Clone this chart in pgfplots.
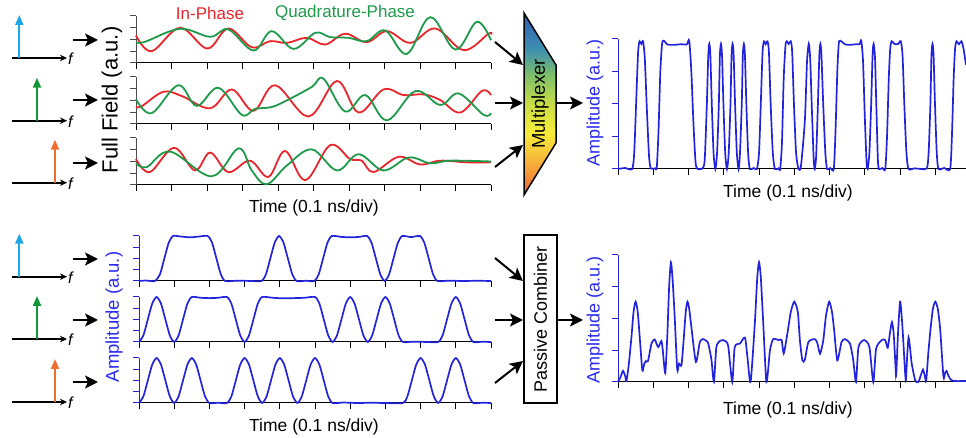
\documentclass[border=0pt]{standalone}
\usepackage{fontspec}
\setmainfont{Liberation Sans}
\usepackage{pgfplots}
\pgfplotsset{compat=1.18}
\usetikzlibrary{arrows.meta}

\definecolor{iRed}{HTML}{E8262B}
\definecolor{qGreen}{HTML}{1E9A4B}
\definecolor{sigBlue}{HTML}{2323DC}
\definecolor{lblBlue}{HTML}{2A2AF0}
\definecolor{fBlue}{HTML}{1CA8E6}
\definecolor{fGreen}{HTML}{13963A}
\definecolor{fOrange}{HTML}{EE6E2E}
\definecolor{muxB}{HTML}{2E5DB5}
\definecolor{muxT}{HTML}{3D8FB0}
\definecolor{muxG}{HTML}{7DC06A}
\definecolor{muxYG}{HTML}{C8DD45}
\definecolor{muxY}{HTML}{F7EC3A}
\definecolor{muxO}{HTML}{F5A23A}
\definecolor{muxR}{HTML}{EE5A2F}

\pgfdeclareverticalshading{mux}{100bp}{color(0bp)=(muxR); color(25bp)=(muxR);
  color(32bp)=(muxO); color(42bp)=(muxY); color(50bp)=(muxYG); color(58bp)=(muxG);
  color(65bp)=(muxT); color(75bp)=(muxB); color(100bp)=(muxB)}

\newcommand{\fs}[1]{\fontsize{#1}{#1}\selectfont}

\pgfplotsset{
  panel/.style={
    scale only axis, clip=false,
    axis x line=bottom, axis y line=left,
    axis line style={-, line width=1pt},
    x axis line style={-, black}, y axis line style={-},
    tick align=outside, major tick length=6pt,
    every tick/.style={line width=1pt},
    xmin=0, xmax=10, ymin=0, ymax=4,
    xtick={0,...,10}, ytick={0,...,4},
    xticklabels={}, yticklabels={},
    xtick style={black},
  },
  grayy/.style={y axis line style={-, black!70}, ytick style={black!70}},
  bluey/.style={y axis line style={-, sigBlue}, ytick style={sigBlue}},
  iq/.style={line width=1.8pt, smooth, tension=0.6},
  sig/.style={line width=1.7pt, color=sigBlue, smooth, tension=0.4},
}

\begin{document}
\begin{tikzpicture}
\path[use as bounding box] (0pt,0pt) rectangle (966pt,438pt);

% ---- top: full field (I/Q) ----
\begin{axis}[panel, grayy, at={(136pt,375pt)}, width=355pt, height=47pt]
  \addplot[iq, iRed] coordinates {(0,2.34) (0.44,1.0) (1.24,3.0) (2.01,1.23) (2.6,2.94)
    (3.26,1.34) (3.78,1.86) (4.25,1.71) (4.81,2.14) (5.33,1.57) (5.89,2.49) (6.5,1.77)
    (7.07,2.71) (7.73,1.71) (8.43,2.94) (9.23,1.09) (9.93,2.49) (10,2.43)};
  \addplot[iq, qGreen] coordinates {(0,1.77) (0.25,1.8) (1.24,2.91) (2.09,2.23) (2.6,2.86)
    (3.31,1.06) (3.82,2.71) (4.44,1.2) (5.05,2.57) (5.47,2.2) (5.99,2.14) (6.5,1.86)
    (7.02,2.77) (7.63,0.77) (8.29,3.9) (9.0,1.14) (9.6,3.51) (10,1.94)};
\end{axis}
\begin{axis}[panel, grayy, at={(136pt,314pt)}, width=355pt, height=47pt]
  \addplot[iq, iRed] coordinates {(0,1.48) (0.16,1.51) (0.77,2.74) (1.29,2.38) (2.09,1.34)
    (2.70,2.94) (3.31,1.12) (3.92,3.3) (4.86,0.64) (5.66,3.66) (6.27,0.98) (6.97,2.94)
    (7.54,2.46) (8.10,2.52) (8.57,2.04) (9.14,0.98) (9.75,2.83) (10,2.46)};
  \addplot[iq, qGreen] coordinates {(0,2.1) (0.44,0.92) (1.19,3.3) (1.71,1.54) (2.32,3.08)
    (2.98,0.78) (3.35,1.28) (3.83,1.45) (4.31,2.1) (4.96,3.17) (5.28,3.86) (5.89,1.06)
    (6.46,2.46) (7.07,0.31) (7.87,2.8) (8.57,1.62) (9.09,2.6) (9.79,0.78) (10,0.92)};
\end{axis}
\begin{axis}[panel, grayy, at={(136pt,253pt)}, width=355pt, height=47pt]
  \addplot[iq, iRed] coordinates {(0,2.21) (0.39,1.1) (1.07,3.17) (1.66,1.24) (2.09,2.76)
    (2.60,1.1) (3.21,2.07) (3.73,0.69) (4.20,2.9) (4.77,0.41) (5.47,3.39) (6.03,2.21)
    (6.36,2.07) (6.69,1.1) (7.40,2.4) (8.01,1.74) (8.57,2.07) (9.32,1.93) (10,1.93)};
  \addplot[iq, qGreen] coordinates {(0,1.85) (0.30,1.52) (0.96,2.84) (2.13,0.74) (2.89,3.12)
    (3.26,1.24) (3.68,0.06) (4.25,1.66) (4.95,3.03) (5.66,1.24) (6.27,2.62) (6.97,1.24)
    (7.68,2.34) (8.29,1.85) (8.85,2.07) (10,2.0)};
\end{axis}

% ---- bottom: amplitude of each channel ----
\begin{axis}[panel, bluey, at={(139pt,157pt)}, width=352pt, height=45pt]
  \addplot[sig] coordinates {(0,0) (0.2,0.04) (0.45,0)
    (0.595,0.59) (0.72,2.0) (0.845,3.41) (0.97,4.0) (1.2,3.95) (1.45,3.88) (1.7,3.95) (1.95,4.0)
    (2.075,3.41) (2.2,2.0) (2.325,0.59) (2.45,0) (2.8,0.03) (3.2,0) (3.48,0)
    (3.605,0.59) (3.73,2.0) (3.855,3.41) (3.98,4.0) (4.105,3.41) (4.23,2.0) (4.355,0.59) (4.48,0)
    (4.75,0.02) (4.98,0)
    (5.105,0.59) (5.23,2.0) (5.355,3.41) (5.48,4.0) (5.75,3.92) (6.0,3.88) (6.25,3.92) (6.48,4.0)
    (6.605,3.41) (6.73,2.0) (6.855,0.59) (6.98,0)
    (7.105,0.59) (7.23,2.0) (7.355,3.41) (7.48,4.0) (7.73,3.9) (7.98,4.0)
    (8.105,3.41) (8.23,2.0) (8.355,0.59) (8.48,0) (8.8,0.03) (9.2,0) (9.6,0.02) (10,0)};
\end{axis}
\begin{axis}[panel, bluey, at={(139pt,96pt)}, width=352pt, height=45pt]
  \addplot[sig] coordinates {(0,0) (0.125,0.59) (0.25,2.0) (0.375,3.41) (0.5,4.0)
    (0.625,3.41) (0.75,2.0) (0.875,0.59) (1.0,0)
    (1.125,0.59) (1.25,2.0) (1.375,3.41) (1.5,4.0) (1.75,3.93) (2.0,3.9) (2.25,3.93) (2.5,4.0)
    (2.625,3.41) (2.75,2.0) (2.875,0.59) (3.0,0)
    (3.125,0.59) (3.25,2.0) (3.375,3.41) (3.5,4.0) (3.8,3.93) (4.1,3.88) (4.4,3.9) (4.7,3.93) (5.0,4.0)
    (5.125,3.41) (5.25,2.0) (5.375,0.59) (5.5,0)
    (5.625,0.59) (5.75,2.0) (5.875,3.41) (6.0,4.0) (6.125,3.41) (6.25,2.0) (6.375,0.59) (6.5,0)
    (6.625,0.59) (6.75,2.0) (6.875,3.41) (7.0,4.0) (7.125,3.41) (7.25,2.0) (7.375,0.59) (7.5,0)
    (7.8,0.03) (8.2,0) (8.5,0)
    (8.625,0.59) (8.75,2.0) (8.875,3.41) (9.0,4.0) (9.125,3.41) (9.25,2.0) (9.375,0.59) (9.5,0)
    (9.75,0.02) (10,0)};
\end{axis}
\begin{axis}[panel, bluey, at={(139pt,35pt)}, width=352pt, height=45pt]
  \addplot[sig] coordinates {(0,0) (0.125,0.59) (0.25,2.0) (0.375,3.41) (0.5,4.0)
    (0.625,3.41) (0.75,2.0) (0.875,0.59) (1.0,0)
    (1.125,0.59) (1.25,2.0) (1.375,3.41) (1.5,4.0) (1.625,3.41) (1.75,2.0) (1.875,0.59) (2.0,0)
    (2.25,0.02) (2.5,0)
    (2.625,0.59) (2.75,2.0) (2.875,3.41) (3.0,4.0) (3.125,3.41) (3.25,2.0) (3.375,0.59) (3.5,0)
    (3.625,0.59) (3.75,2.0) (3.875,3.41) (4.0,4.0) (4.125,3.41) (4.25,2.0) (4.375,0.59) (4.5,0)
    (4.625,0.59) (4.75,2.0) (4.875,3.41) (5.0,4.0) (5.125,3.41) (5.25,2.0) (5.375,0.59) (5.5,0)
    (5.8,0.04) (6.2,0) (6.6,0.02) (7.0,0) (7.5,0)
    (7.625,0.59) (7.75,2.0) (7.875,3.41) (8.0,4.0) (8.125,3.41) (8.25,2.0) (8.375,0.59) (8.5,0)
    (8.625,0.59) (8.75,2.0) (8.875,3.41) (9.0,4.0) (9.125,3.41) (9.25,2.0) (9.375,0.59) (9.5,0)
    (9.75,0.02) (10,0)};
\end{axis}

% ---- right: multiplexed output ----
\begin{axis}[panel, bluey, at={(618pt,269pt)}, width=348pt, height=130pt,
    xmax=9.87, xtick={0,...,9}]
  \addplot[sig] coordinates {(0,0) (0.2,0.03) (0.4,0)
    (0.46,0.5) (0.52,2.2) (0.57,3.6) (0.61,3.93) (0.66,3.85) (0.71,3.93)
    (0.76,3.4) (0.82,1.8) (0.88,0.4) (0.93,0.02) (1.05,0.02) (1.1,0.05)
    (1.15,1.2) (1.2,3.0) (1.25,3.85) (1.3,3.95) (1.4,3.83) (1.6,3.82) (1.8,3.84) (1.95,3.83) (2.02,3.95)
    (2.08,3.0) (2.14,1.4) (2.2,0.2) (2.26,0) (2.4,0.02)
    (2.46,0.3) (2.52,2.0) (2.56,3.5) (2.59,3.85) (2.62,3.5) (2.66,2.0) (2.71,0.5) (2.76,0)
    (2.81,0.5) (2.86,2.0) (2.89,3.5) (2.92,3.85) (2.95,3.5) (2.99,2.0) (3.04,0.5) (3.09,0)
    (3.14,0.5) (3.19,2.0) (3.22,3.5) (3.25,3.85) (3.28,3.5) (3.32,2.0) (3.37,0.5) (3.42,0)
    (3.46,0.5) (3.51,2.0) (3.54,3.5) (3.57,3.85) (3.60,3.5) (3.64,2.0) (3.69,0.5) (3.74,0)
    (3.85,0.03) (3.94,0)
    (4.0,0.5) (4.05,2.0) (4.1,3.6) (4.14,3.93) (4.19,3.84) (4.24,3.93) (4.28,3.6) (4.33,2.0) (4.39,0.5) (4.45,0)
    (4.55,0.02) (4.6,0)
    (4.65,0.8) (4.7,2.8) (4.75,3.8) (4.79,3.93) (4.84,3.85) (4.9,3.93) (4.94,3.6) (4.99,2.0) (5.05,0.5) (5.12,0)
    (5.19,0.1) (5.3,1.5) (5.36,3.3) (5.41,3.85) (5.45,3.4) (5.5,1.8) (5.55,0.3) (5.58,0)
    (5.62,0.4) (5.67,2.0) (5.71,3.5) (5.74,3.85) (5.77,3.5) (5.82,2.0) (5.88,0.5) (5.93,0)
    (6.02,0.03) (6.12,0)
    (6.17,1.2) (6.22,3.0) (6.26,3.85) (6.3,3.95) (6.45,3.83) (6.6,3.82) (6.75,3.84) (6.85,3.84) (6.9,3.95)
    (6.95,3.3) (7.0,1.6) (7.05,0.2) (7.08,0)
    (7.13,0.5) (7.18,2.0) (7.22,3.5) (7.25,3.85) (7.29,3.4) (7.33,1.8) (7.37,0.3) (7.4,0)
    (7.5,0.03) (7.58,0)
    (7.63,1.0) (7.68,2.8) (7.72,3.7) (7.76,3.93) (7.85,3.84) (7.95,3.85) (8.02,3.93)
    (8.07,3.5) (8.12,2.0) (8.18,0.5) (8.24,0) (8.4,0.02) (8.6,0) (8.76,0.02)
    (8.81,0.5) (8.86,2.0) (8.89,3.5) (8.92,3.85) (8.95,3.5) (8.99,2.0) (9.04,0.5) (9.09,0)
    (9.25,0.03) (9.42,0)
    (9.47,1.0) (9.52,2.8) (9.56,3.7) (9.6,3.93) (9.67,3.84) (9.74,3.93) (9.8,3.7) (9.87,3.2)};
\end{axis}

% ---- right: passive combiner output ----
\begin{axis}[panel, bluey, at={(618pt,56pt)}, width=348pt, height=127pt,
    xmax=9.87, xtick={0,...,9}]
  \addplot[sig] coordinates {(0,0) (0.07,0.15) (0.14,0.35) (0.2,0.2) (0.24,0.03)
    (0.31,0.6) (0.38,1.4) (0.44,2.2) (0.5,2.53) (0.56,2.2) (0.62,1.35) (0.69,0.37)
    (0.74,0.55) (0.79,0.66) (0.85,0.66) (0.95,1.21) (1.04,1.34) (1.14,1.1) (1.23,1.29) (1.27,1.0) (1.34,0.28)
    (1.4,1.5) (1.45,3.0) (1.5,3.77) (1.55,3.2) (1.61,2.0) (1.68,0.39) (1.73,0.58) (1.8,0.53)
    (1.86,1.3) (1.92,2.2) (1.97,2.53) (2.02,2.3) (2.08,1.74) (2.21,0.63)
    (2.32,1.26) (2.41,1.35) (2.5,1.3) (2.56,1.21) (2.65,0.7) (2.72,0)
    (2.79,1.1) (2.9,1.3) (2.98,1.32) (3.06,1.28) (3.13,1.1) (3.24,0)
    (3.31,1.1) (3.46,1.21) (3.6,1.4) (3.67,0.79) (3.76,0)
    (3.88,1.84) (3.95,3.3) (4.0,3.77) (4.05,3.3) (4.12,1.84) (4.21,0)
    (4.31,1.0) (4.4,1.35) (4.55,1.32) (4.64,1.32) (4.7,0.9)
    (4.8,1.5) (4.9,2.2) (5.0,2.53) (5.1,2.2) (5.16,1.3) (5.23,0.68) (5.3,0.7)
    (5.4,1.26) (5.59,1.35) (5.66,1.2) (5.73,0.89)
    (5.82,1.3) (5.9,2.1) (5.99,2.53) (6.07,2.2) (6.13,1.63) (6.22,0.68)
    (6.34,1.26) (6.44,1.35) (6.58,1.21) (6.67,0.7) (6.75,0)
    (6.82,1.1) (6.98,1.32) (7.13,1.1) (7.24,0)
    (7.32,1.05) (7.48,1.32) (7.58,1.32) (7.65,1.08) (7.72,1.6) (7.77,1.89) (7.82,1.5) (7.87,0.5) (7.89,0.21)
    (7.94,1.5) (8.0,2.53) (8.05,2.0) (8.09,1.32) (8.16,0.05)
    (8.2,0.8) (8.24,1.4) (8.29,1.0) (8.33,0.58) (8.43,0.05) (8.52,0)
    (8.6,0.25) (8.65,0.39) (8.7,0.2) (8.74,0.03)
    (8.8,0.9) (8.86,1.63) (8.93,2.3) (9.0,2.53) (9.07,2.3) (9.14,1.63) (9.23,0.16)
    (9.28,0.3) (9.32,0.35) (9.37,0.2) (9.44,0.07) (9.56,0.03) (9.87,0.03)};
\end{axis}

\begin{scope}[x=1pt, y=1pt]
  % frequency sketches
  \foreach \ya/\xa/\col in {380/19.3/fBlue, 317.3/37/fGreen, 255.3/55/fOrange,
                            161.3/19.3/fBlue, 99/37/fGreen, 36/55/fOrange} {
    \draw[line width=1.8pt, -{Stealth[length=7pt,width=6.5pt]}] (12,\ya) -- (67,\ya);
    \draw[line width=2pt, \col, -{Triangle[length=10pt,width=8pt]}] (\xa,\ya) -- (\xa,\ya+43);
    \node[anchor=west, inner sep=0pt, font=\fs{16}\itshape] at (68,\ya-1) {f};
  }
  \foreach \ya in {398, 338, 275, 179, 118, 56}
    \draw[line width=2pt, -{Stealth[length=13pt,width=13pt,inset=3pt]}] (73,\ya) -- (98,\ya);

  % multiplexer
  \shadedraw[shading=mux, line width=1.5pt] (524,425) -- (556,373) -- (556,295) -- (524,243) -- cycle;
  \node[rotate=90, font=\fs{18.5}] at (540,334) {Multiplexer};
  \draw[line width=2pt, -{Stealth[length=13pt,width=13pt,inset=3pt]}] (495,396) -- (523,373);
  \draw[line width=2pt, -{Stealth[length=13pt,width=13pt,inset=3pt]}] (495,335) -- (523,335);
  \draw[line width=2pt, -{Stealth[length=13pt,width=13pt,inset=3pt]}] (495,271) -- (523,293);
  \draw[line width=2pt, -{Stealth[length=13pt,width=13pt,inset=3pt]}] (556,335) -- (583,335);

  % passive combiner
  \draw[line width=1.8pt, fill=white] (524,35) rectangle (557,203);
  \node[rotate=90, font=\fs{18}] at (540.5,119) {Passive Combiner};
  \draw[line width=2pt, -{Stealth[length=13pt,width=13pt,inset=3pt]}] (495,180) -- (523,157);
  \draw[line width=2pt, -{Stealth[length=13pt,width=13pt,inset=3pt]}] (495,118) -- (523,118);
  \draw[line width=2pt, -{Stealth[length=13pt,width=13pt,inset=3pt]}] (495,55) -- (523,77);
  \draw[line width=2pt, -{Stealth[length=13pt,width=13pt,inset=3pt]}] (557,118) -- (583,118);

  % labels
  \node[font=\fs{17}, text=iRed] at (210,425) {In-Phase};
  \node[font=\fs{17}, text=qGreen] at (345,425) {Quadrature-Phase};
  \node[rotate=90, font=\fs{22}] at (112,338) {Full Field (a.u.)};
  \node[rotate=90, font=\fs{18.5}, text=lblBlue] at (114,121) {Amplitude (a.u.)};
  \node[rotate=90, font=\fs{18}, text=lblBlue] at (595,335) {Amplitude (a.u.)};
  \node[rotate=90, font=\fs{18}, text=lblBlue] at (595,118) {Amplitude (a.u.)};
  \node[font=\fs{17.5}] at (314,230) {Time (0.1 ns/div)};
  \node[font=\fs{17.5}] at (314,11) {Time (0.1 ns/div)};
  \node[font=\fs{17.5}] at (788,245) {Time (0.1 ns/div)};
  \node[font=\fs{17.5}] at (788,28) {Time (0.1 ns/div)};
\end{scope}
\end{tikzpicture}
\end{document}
